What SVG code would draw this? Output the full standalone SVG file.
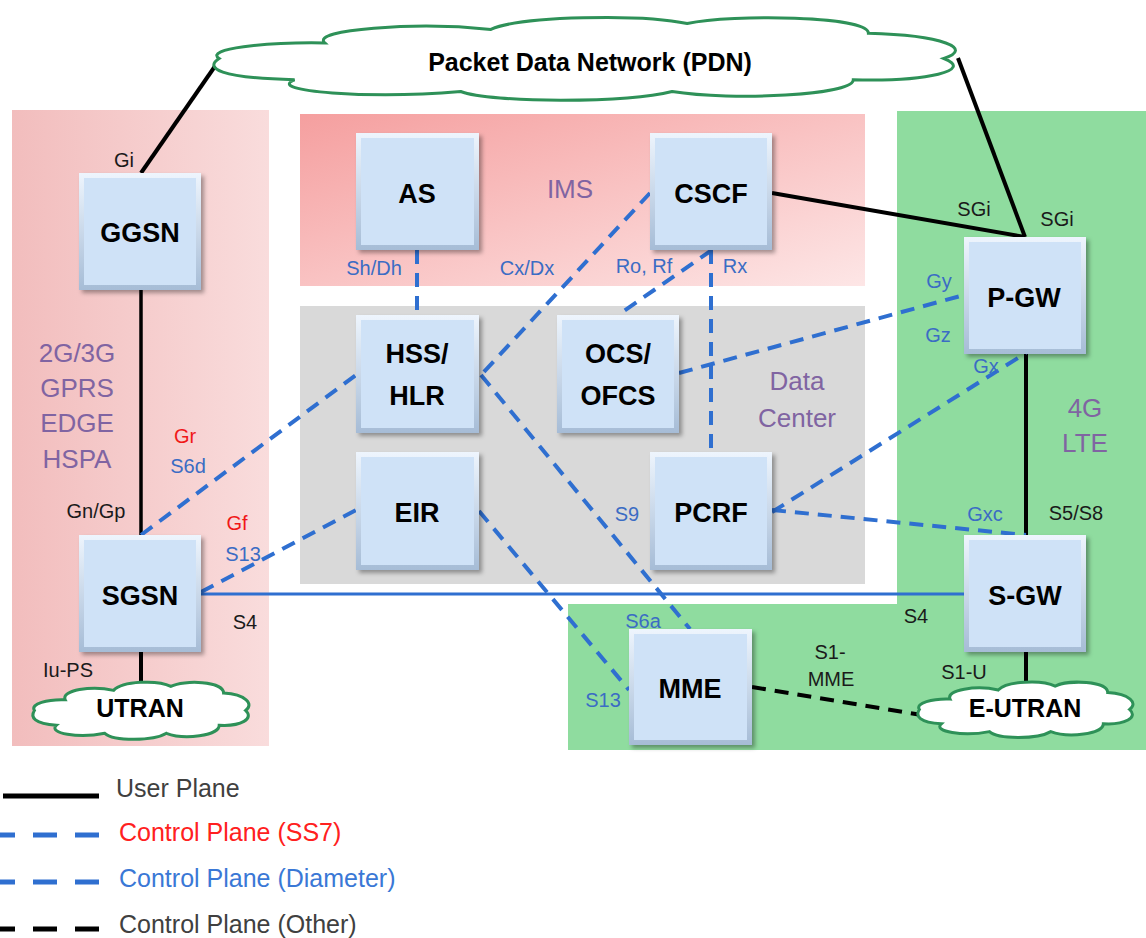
<svg xmlns="http://www.w3.org/2000/svg" width="1146" height="938" viewBox="0 0 1146 938">
<defs>
<linearGradient id="pinkL" x1="0" y1="0" x2="1" y2="0"><stop offset="0" stop-color="#f2bdbd"/><stop offset="1" stop-color="#f9dcdc"/></linearGradient>
<linearGradient id="pinkIMS" x1="0" y1="0" x2="1" y2="1"><stop offset="0" stop-color="#f59f9f"/><stop offset="1" stop-color="#fde6e6"/></linearGradient>
<linearGradient id="bev" x1="0" y1="0" x2="0" y2="1"><stop offset="0" stop-color="#eef5fd"/><stop offset="1" stop-color="#a6bcd6"/></linearGradient>
<filter id="sh" x="-10%" y="-10%" width="130%" height="130%"><feDropShadow dx="3" dy="3" stdDeviation="2" flood-color="#000" flood-opacity="0.35"/></filter>
<path id="cloud" style="vector-effect:non-scaling-stroke" d="M2,50 C0,40 8,33 16,34 C14,20 28,12 38,20 C42,6 58,4 64,14 C70,4 88,6 88,24 C98,26 102,40 98,50 C102,62 96,74 86,72 C86,88 70,94 62,84 C56,96 38,96 34,84 C22,92 8,84 12,72 C2,70 0,60 2,50 Z"/>
</defs>
<style>
.box{fill:url(#bev);filter:url(#sh)}
.face{fill:#cfe2f7}
.cl{fill:#fff;stroke:#2e9158;stroke-width:3}
.up{stroke:#000;stroke-width:4;fill:none;stroke-linecap:butt}
.cd{stroke:#2f6fd0;stroke-width:4;fill:none;stroke-dasharray:14 9}
.co{stroke:#000;stroke-width:4;fill:none;stroke-dasharray:14 9}
.s4{stroke:#2f6fd0;stroke-width:3;fill:none}
.nt{font-family:"Liberation Sans",Arial,sans-serif;font-weight:bold;font-size:27px;fill:#000;text-anchor:middle}
.ct{font-family:"Liberation Sans",Arial,sans-serif;font-weight:bold;font-size:25px;fill:#000;text-anchor:middle}
.lb{font-family:"Liberation Sans",Arial,sans-serif;font-size:20px;text-anchor:middle}
.k{fill:#1a1a1a}
.b{fill:#3b6cc4}
.r{fill:#f01818}
.rg{font-family:"Liberation Sans",Arial,sans-serif;font-size:26px;fill:#8064a2;text-anchor:middle}
.lg{font-family:"Liberation Sans",Arial,sans-serif;font-size:25px}
</style>

<g id="regions">
<rect x="12" y="110" width="257" height="636" fill="url(#pinkL)"/>
<rect x="300" y="114" width="565" height="172" fill="url(#pinkIMS)"/>
<rect x="300" y="306" width="565" height="278" fill="#d9d9d9"/>
<path d="M897,111 H1146 V750 H568 V604 H897 Z" fill="#8fdc9f"/>
</g>

<g id="connectors">
<path class="up" d="M141,173 L220,59"/>
<path class="up" d="M1025,237 L958,58"/>
<path class="up" d="M772,193 L1025,237"/>
<path class="up" d="M141,290 V535" style="stroke-width:3.5"/>
<path class="up" d="M141,652 V692"/>
<path class="up" d="M1026,353 V535"/>
<path class="up" d="M1026,652 V692"/>
<path class="s4" d="M201,594 H964"/>
<path class="cd" d="M417,250 V315"/>
<path class="cd" d="M650,193 L481,375"/>
<path class="cd" d="M481,375 L690,629"/>
<path class="cd" d="M141,535 L356,375"/>
<path class="cd" d="M201,592 L356,510"/>
<path class="cd" d="M479,511 L629,690"/>
<path class="cd" d="M712,250 L618,315"/>
<path class="cd" d="M711,250 V452"/>
<path class="cd" d="M679,373 L964,295"/>
<path class="cd" d="M772,512 L1026,353"/>
<path class="cd" d="M772,510 L1026,535"/>
<path class="co" d="M752,687 L928,716"/>
</g>

<g id="ggsn"><rect class="box" x="79" y="173" width="122" height="117"/><rect class="face" x="84" y="178" width="112" height="107"/><text class="nt" x="140" y="242">GGSN</text></g>
<g id="as"><rect class="box" x="356" y="133" width="123" height="117"/><rect class="face" x="361" y="138" width="113" height="107"/><text class="nt" x="417" y="203">AS</text></g>
<g id="cscf"><rect class="box" x="650" y="133" width="122" height="117"/><rect class="face" x="655" y="138" width="112" height="107"/><text class="nt" x="711" y="203">CSCF</text></g>
<g id="pgw"><rect class="box" x="964" y="237" width="122" height="117"/><rect class="face" x="969" y="242" width="112" height="107"/><text class="nt" x="1024" y="307">P-GW</text></g>
<g id="hss"><rect class="box" x="356" y="315" width="123" height="118"/><rect class="face" x="361" y="320" width="113" height="108"/><text class="nt" x="417" y="363">HSS/</text><text class="nt" x="417" y="405">HLR</text></g>
<g id="ocs"><rect class="box" x="557" y="315" width="122" height="118"/><rect class="face" x="562" y="320" width="112" height="108"/><text class="nt" x="618" y="363">OCS/</text><text class="nt" x="618" y="405">OFCS</text></g>
<g id="eir"><rect class="box" x="356" y="452" width="123" height="118"/><rect class="face" x="361" y="457" width="113" height="108"/><text class="nt" x="417" y="522">EIR</text></g>
<g id="pcrf"><rect class="box" x="650" y="452" width="122" height="118"/><rect class="face" x="655" y="457" width="112" height="108"/><text class="nt" x="711" y="522">PCRF</text></g>
<g id="sgsn"><rect class="box" x="79" y="535" width="122" height="117"/><rect class="face" x="84" y="540" width="112" height="107"/><text class="nt" x="140" y="605">SGSN</text></g>
<g id="sgw"><rect class="box" x="964" y="535" width="122" height="117"/><rect class="face" x="969" y="540" width="112" height="107"/><text class="nt" x="1025" y="605">S-GW</text></g>
<g id="mme"><rect class="box" x="629" y="629" width="123" height="116"/><rect class="face" x="634" y="634" width="113" height="106"/><text class="nt" x="690" y="698">MME</text></g>

<g id="pdn"><use href="#cloud" class="cl" transform="translate(204,10) scale(7.55,0.97)"/><text class="ct" x="590" y="71">Packet Data Network (PDN)</text></g>
<g id="utran"><use href="#cloud" class="cl" transform="translate(30,677) scale(2.2,0.67)"/><text class="ct" x="140" y="717">UTRAN</text></g>
<g id="eutran"><use href="#cloud" class="cl" transform="translate(915,677) scale(2.19,0.65)"/><text class="ct" x="1025" y="717">E-UTRAN</text></g>

<g id="region-labels">
<text class="rg" x="570" y="198">IMS</text>
<text class="rg" x="77" y="362">2G/3G</text>
<text class="rg" x="77" y="397">GPRS</text>
<text class="rg" x="77" y="432">EDGE</text>
<text class="rg" x="77" y="468">HSPA</text>
<text class="rg" x="797" y="390">Data</text>
<text class="rg" x="797" y="427">Center</text>
<text class="rg" x="1085" y="417">4G</text>
<text class="rg" x="1085" y="452">LTE</text>
</g>

<g id="interface-labels">
<text class="lb k" x="124" y="167">Gi</text>
<text class="lb b" x="374" y="275">Sh/Dh</text>
<text class="lb b" x="527" y="275">Cx/Dx</text>
<text class="lb b" x="644" y="273">Ro, Rf</text>
<text class="lb b" x="735" y="273">Rx</text>
<text class="lb k" x="974" y="216">SGi</text>
<text class="lb k" x="1057" y="226">SGi</text>
<text class="lb b" x="939" y="288">Gy</text>
<text class="lb b" x="938" y="342">Gz</text>
<text class="lb b" x="986" y="373">Gx</text>
<text class="lb b" x="985" y="521">Gxc</text>
<text class="lb k" x="1076" y="520">S5/S8</text>
<text class="lb b" x="627" y="521">S9</text>
<text class="lb r" x="185" y="443">Gr</text>
<text class="lb b" x="188" y="473">S6d</text>
<text class="lb k" x="96" y="518">Gn/Gp</text>
<text class="lb r" x="237" y="530">Gf</text>
<text class="lb b" x="243" y="561">S13</text>
<text class="lb k" x="245" y="629">S4</text>
<text class="lb k" x="68" y="677">Iu-PS</text>
<text class="lb k" x="916" y="623">S4</text>
<text class="lb b" x="643" y="628">S6a</text>
<text class="lb b" x="603" y="707">S13</text>
<text class="lb k" x="830" y="659">S1-</text>
<text class="lb k" x="831" y="686">MME</text>
<text class="lb k" x="964" y="679">S1-U</text>
</g>

<g id="legend">
<path d="M3,796 H99" stroke="#000" stroke-width="5"/>
<path d="M-9,835 H99" stroke="#2f6fd0" stroke-width="5" stroke-dasharray="24 18"/>
<path d="M-9,882 H99" stroke="#2f6fd0" stroke-width="5" stroke-dasharray="24 18"/>
<path d="M-9,929 H99" stroke="#000" stroke-width="5" stroke-dasharray="24 18"/>
<text class="lg" x="116" y="797" fill="#404040">User Plane</text>
<text class="lg" x="119" y="841" fill="#ff2020">Control Plane (SS7)</text>
<text class="lg" x="119" y="887" fill="#3a78d6">Control Plane (Diameter)</text>
<text class="lg" x="119" y="933" fill="#404040">Control Plane (Other)</text>
</g>
</svg>
